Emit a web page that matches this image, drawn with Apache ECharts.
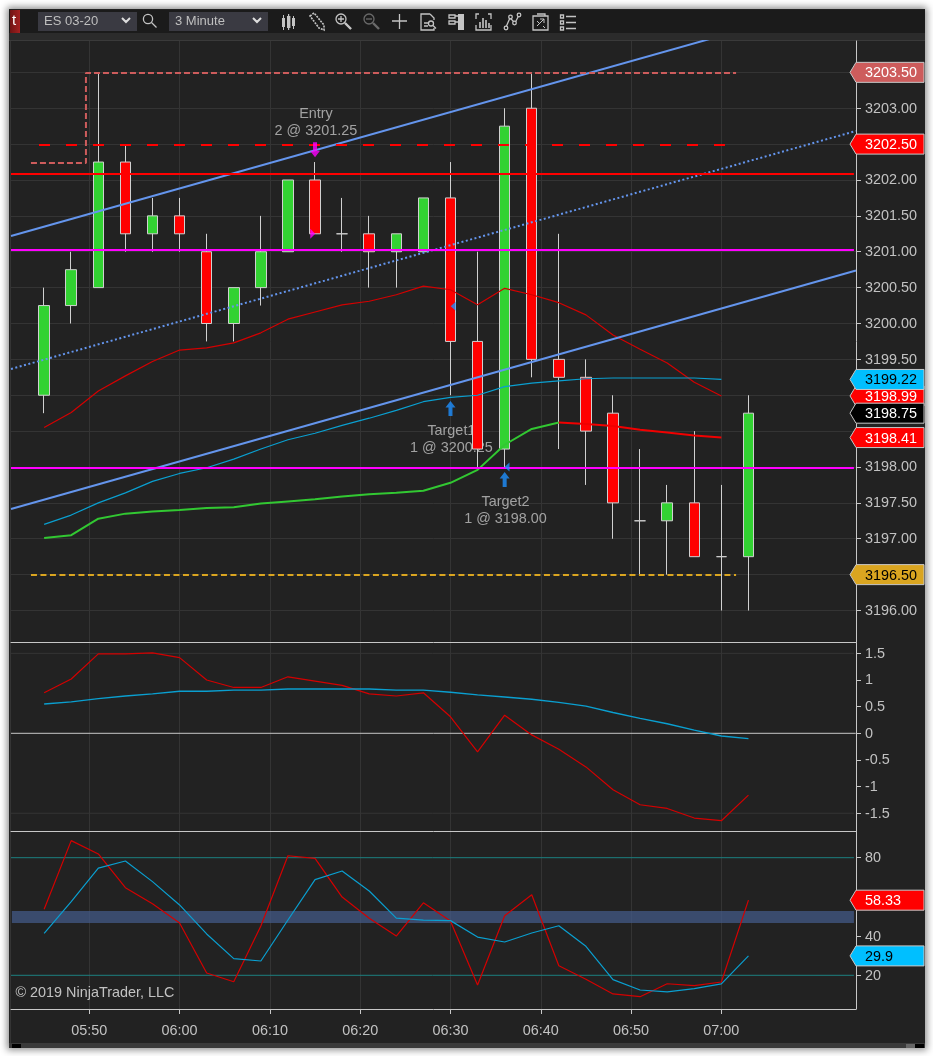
<!DOCTYPE html>
<html><head><meta charset="utf-8">
<script src="https://cdn.jsdelivr.net/npm/echarts@6/dist/echarts.min.js"></script>
<style>
html,body{margin:0;padding:0;background:#fff;width:933px;height:1056px;overflow:hidden}
#win{position:absolute;left:9px;top:9px;width:916px;height:1039px;background:#222;box-shadow:0 0 7px 2px rgba(0,0,0,.45)}
#tb{position:absolute;left:9px;top:10px;width:916px;height:23px;background:#1b1b1b}
#band{position:absolute;left:9px;top:33px;width:916px;height:7px;background:#2b2b2b;border-bottom:1px solid #3a3a3a}
#lb{position:absolute;left:10px;top:41px;width:1px;height:1002px;background:#353535}
#sb{position:absolute;left:9px;top:1043px;width:916px;height:5px;background:#3a3a3a}
.sq{position:absolute;top:1044px;height:4px}
#icons{position:absolute;left:0;top:0}
#chart{position:absolute;left:0;top:0;width:933px;height:1056px}
</style></head><body>
<div id="win"></div><div id="tb"></div><div id="band"></div><div id="lb"></div><div id="sb"></div>
<div class="sq" style="left:12px;width:9px;background:#000"></div>
<div class="sq" style="left:906px;width:9px;background:#666"></div>
<div class="sq" style="left:915px;width:9px;background:#000"></div>
<svg id="icons" width="933" height="40" fill="none" stroke="#c4c4c4" stroke-width="1.3">
<defs><linearGradient id="rg" x1="0" x2="1"><stop offset="0" stop-color="#6e1414"/><stop offset="1" stop-color="#a52020"/></linearGradient></defs>
<rect x="10" y="10" width="10" height="23" fill="url(#rg)" stroke="none"/>
<rect x="38" y="12" width="99" height="19" fill="#3a3a42" stroke="none"/>
<rect x="169" y="12" width="99" height="19" fill="#3a3a42" stroke="none"/>
<path d="M122 18l4 4 4-4M253 18l4 4 4-4" stroke="#ddd" stroke-width="2"/>
<circle cx="148" cy="19" r="4.6"/><path d="M151.5 22.5l5 5"/>
<g fill="#c4c4c4" stroke="none"><rect x="282" y="18" width="3" height="9"/><rect x="287" y="16" width="3.4" height="12"/><rect x="292" y="18" width="3" height="8"/><rect x="283" y="15" width="1" height="15"/><rect x="288" y="14" width="1.2" height="16"/><rect x="293" y="16" width="1" height="13"/></g>
<path d="M310 16l4-3 10 12 0 5-5-2z" stroke-width="1.6" stroke-dasharray="2 1"/>
<circle cx="341" cy="19" r="5"/><path d="M338 19h6M341 16v6M345 23l6 6" /><path d="M345 23l6 6" stroke-width="2.4"/>
<g stroke="#6a6a6a"><circle cx="369" cy="19" r="5"/><path d="M366 19h6"/><path d="M373 23l6 6" stroke-width="2.4"/></g>
<path d="M392 21h15M399.5 14v15"/>
<path d="M430 14h-9v16h13v-2M430 14l4 4v2M424 23h4M424 26h4"/><circle cx="431" cy="23.5" r="2.5"/><path d="M433 25.5l3 3"/>
<path d="M449 15h6v3h-6zM449 21h6v3h-6zM455 16h3M455 22h3"/><rect x="458" y="14" width="6" height="16" fill="#c4c4c4" stroke="none"/>
<path d="M476 19v-5h3M488 14h3v5M476 25v5h15v-5"/><path d="M480 28v-6M483 28v-10M486 28v-8M489 28v-5" stroke-width="1.6"/>
<path d="M506 27l4-9 5 5 4-8"/><g fill="#1b1b1b"><circle cx="506" cy="28" r="1.8"/><circle cx="510.5" cy="17" r="1.8"/><circle cx="514.5" cy="23" r="1.8"/><circle cx="519" cy="15" r="1.8"/></g>
<path d="M537 14h8v2M533 16h15v14h-15z"/><path d="M537 26l7-7M540 19h4v4M537 21l2 2M543 26l2 2" stroke-width="1"/>
<path d="M560.5 15h3v3h-3zM560.5 21h3v3h-3zM560.5 27h3v3h-3zM566 16.5h10M566 22.5h10M566 28.5h10"/>
</svg>
<div id="chart"></div>
<script>
// ---- time of each bar, minutes after midnight (05:45 ... 07:03)
const barMinutes = [345,348,351,354,357,360,363,366,369,372,375,378,381,384,387,390,393,396,399,402,405,408,411,414,417,420,423];
const barOpen  = [3199.00,3200.25,3200.50,3202.25,3201.25,3201.50,3201.00,3200.00,3200.50,3201.00,3202.00,3201.25,3201.25,3201.00,3201.00,3201.75,3199.75,3198.25,3203.00,3199.50,3199.25,3198.75,3197.25,3197.25,3197.50,3196.75,3196.75];
const barClose = [3200.25,3200.75,3202.25,3201.25,3201.50,3201.25,3200.00,3200.50,3201.00,3202.00,3201.25,3201.25,3201.00,3201.25,3201.75,3199.75,3198.25,3202.75,3199.50,3199.25,3198.50,3197.50,3197.25,3197.50,3196.75,3196.75,3198.75];
const barLow   = [3198.75,3200.00,3200.50,3201.00,3201.00,3201.00,3199.75,3199.75,3200.25,3201.00,3201.25,3201.00,3200.50,3200.50,3201.00,3199.00,3198.00,3198.00,3199.25,3198.25,3197.75,3197.00,3196.50,3196.50,3196.75,3196.00,3196.00];
const barHigh  = [3200.50,3201.00,3203.50,3202.50,3201.75,3201.75,3201.25,3200.50,3201.50,3202.00,3202.25,3201.75,3201.50,3201.25,3201.75,3202.25,3201.00,3203.00,3203.50,3201.25,3199.50,3199.00,3198.25,3197.75,3198.50,3197.75,3199.00];
// ---- overlays on the price pane
const upperBand = [3198.55,3198.76,3199.06,3199.27,3199.47,3199.63,3199.66,3199.73,3199.87,3200.06,3200.16,3200.26,3200.31,3200.40,3200.52,3200.47,3200.26,3200.49,3200.40,3200.29,3200.12,3199.84,3199.64,3199.45,3199.18,3198.99];
const slowAvg   = [3197.20,3197.33,3197.50,3197.64,3197.80,3197.91,3197.99,3198.11,3198.25,3198.38,3198.47,3198.58,3198.68,3198.79,3198.91,3198.97,3199.00,3199.12,3199.17,3199.20,3199.23,3199.24,3199.24,3199.24,3199.24,3199.22];
const midAvg    = [3197.01,3197.05,3197.28,3197.35,3197.38,3197.40,3197.43,3197.44,3197.49,3197.52,3197.55,3197.59,3197.62,3197.64,3197.67,3197.78,3197.96,3198.31,3198.53,3198.62,3198.60,3198.57,3198.52,3198.48,3198.44,3198.41];
// ---- oscillator panes
const macdLine   = [0.76,1.02,1.49,1.49,1.51,1.42,1.00,0.86,0.86,1.06,0.98,0.90,0.74,0.70,0.76,0.31,-0.35,0.34,-0.03,-0.30,-0.63,-1.06,-1.34,-1.41,-1.59,-1.64,-1.16];
const macdSignal = [0.55,0.59,0.65,0.70,0.74,0.79,0.79,0.81,0.81,0.83,0.83,0.83,0.83,0.81,0.81,0.77,0.72,0.68,0.64,0.58,0.51,0.39,0.28,0.18,0.06,-0.05,-0.10];
const stochK = [53.7,88.7,81.9,64.7,56.5,46.7,21.2,16.7,45.2,81,79.7,59.9,49.1,40,57,47.7,15.1,50.4,61.1,24.9,18,10.5,9.1,15.7,14.7,16.6,58.33];
const stochD = [41.4,57.6,74.7,78.3,67.8,55.9,41.1,28.5,27.3,48.2,68.8,73.2,63,49.2,48.2,47.9,39.5,37,41.6,45.3,34.8,17.8,12.5,11.5,13.2,15.6,29.9];
// ---- tick marks and tick labels
const priceTicks = [3196,3196.5,3197,3197.5,3198,3198.5,3199,3199.5,3200,3200.5,3201,3201.5,3202,3202.5,3203,3203.5];
const priceLabels = [3196,3197,3197.5,3198,3199.5,3200,3200.5,3201,3201.5,3202,3203];
const macdTicks  = [-1.5,-1,-0.5,0,0.5,1,1.5];
const stochTicks = [20,40,60,80];
const stochLabels = [20,40,80];
const timeTicks  = [350,360,370,380,390,400,410,420];
// ---- drawn objects, [minute, price]
const channelTop = [[341.33,3201.22],[434.91,3204.54]];
const channelMid = [[341.33,3199.366],[434.91,3202.683]];
const channelBot = [[341.33,3197.415],[434.91,3200.739]];
const levelRed = [[341.33,3202.083],[434.68,3202.083]];
const levelMagentaHigh = [[341.33,3201.024],[434.68,3201.024]];
const levelMagentaLow = [[341.33,3197.986],[434.68,3197.986]];
const stopDashed = [[344.43,3202.488],[420.63,3202.488]];
const pinkStep = [[343.54,3202.237],[349.63,3202.237],[349.63,3203.491],[421.63,3203.491]];
const goldDashed = [[343.54,3196.495],[421.63,3196.495]];
const tradeLabels = [[375.1,3202.797,'Entry\n2 @ 3201.25'],[390.1,3198.383,'Target1\n1 @ 3200.25'],[396.1,3197.395,'Target2\n1 @ 3198.00']];
const entryArrow = [[375,3202.42]];
const targetArrows = [[390,3198.815],[396,3197.826]];
const fillMarksBlue = [[390.3,3200.24],[396.26,3198.0]];
const fillMarksMagenta = [[374.75,3201.25]];
const priceFlags = [['3203.50',3203.5,'#cd5c5c','#fff'],['3202.50',3202.5,'#ff0000','#fff'],['3198.99',3198.99,'#ff0000','#fff'],['3199.22',3199.22,'#00bfff','#000'],['3198.75',3198.75,'#000','#fff'],['3198.41',3198.41,'#ff0000','#fff'],['3196.50',3196.5,'#daa520','#000']];
const stochFlags = [['58.33',58.33,'#ff0000','#fff'],['29.9',29.9,'#00bfff','#000']];

const FONT='"Liberation Sans",Arial,sans-serif', TXT='#c2c2c2', GRID='#343434', AXIS='#c8c8c8';
const XMIN=341.33, XMAX=434.91, XEND=434.68;
const pair=(xs,ys)=>ys.map((v,i)=>[xs[i],v]);
const fmtTime=m=>String(Math.floor(m/60)).padStart(2,'0')+':'+String(m%60).padStart(2,'0');

function xAxis(i,labels){return {gridIndex:i,type:'value',min:XMIN,max:XMAX,position:'bottom',
  axisLine:{show:true,onZero:false,lineStyle:{color:AXIS,width:1}},
  axisTick:{show:labels,length:5,customValues:timeTicks,lineStyle:{color:AXIS}},
  axisLabel:{show:labels,customValues:timeTicks,formatter:fmtTime,color:TXT,fontFamily:FONT,fontSize:14.4,margin:15,hideOverlap:false,showMinLabel:true,showMaxLabel:true},
  splitLine:{show:true,lineStyle:{color:GRID,width:1}}};}
function yAxis(i,min,max,ticks,labels,fmt,split){return {gridIndex:i,type:'value',position:'right',min,max,
  axisLine:{show:true,onZero:false,lineStyle:{color:AXIS,width:1}},
  axisTick:{show:true,length:5,customValues:ticks,lineStyle:{color:AXIS}},
  axisLabel:{customValues:labels,formatter:fmt,color:TXT,fontFamily:FONT,fontSize:14.4,margin:9,hideOverlap:false,verticalAlign:'top',padding:[-6.5,0,0,0]},
  splitLine:{show:split,lineStyle:{color:GRID,width:1}}};}
function line(name,data,color,width,ax,z,extra){return Object.assign({name,type:'line',data,xAxisIndex:ax,yAxisIndex:ax,showSymbol:false,symbol:'none',z,silent:true,
  lineStyle:Object.assign({color,width},extra&&extra.ls||{})},extra&&extra.s||{});}
function flags(name,list,ax){return {name,type:'custom',xAxisIndex:ax,yAxisIndex:ax,z:20,silent:true,clip:false,
  data:list.map(f=>[XMAX,f[1]]),
  renderItem:(params,api)=>{const f=list[params.dataIndex];const p=api.coord([api.value(0),api.value(1)]);
    const x=p[0],y=p[1];
    return {type:'group',children:[
      {type:'polygon',shape:{points:[[x-6,y],[x,y-10],[x+68,y-10],[x+68,y+10],[x,y+10]]},style:{fill:f[2],stroke:AXIS,lineWidth:1}},
      {type:'text',style:{x:x+9,y:y+1,text:f[0],fill:f[3],font:'14.4px '+FONT,textVerticalAlign:'middle',textAlign:'left'}}]};}};}
const DASH=(a)=>({ls:{type:a}});
const ARROW='path://M5,0 L10,6.5 L7,6.5 L7,15 L3,15 L3,6.5 L0,6.5 Z';
function gtext(x,y,t,fill,size){return {type:'text',silent:true,z:30,style:{x,y,text:t,fill,font:(size||14)+'px '+FONT,textVerticalAlign:'middle'}};}

const chart=echarts.init(document.getElementById('chart'),null,{width:933,height:1056});
chart.setOption({
 animation:false,backgroundColor:'transparent',
 grid:[{left:11,top:41,width:845,height:601},{left:11,top:642,width:845,height:189},{left:11,top:831,width:845,height:178}],
 xAxis:[xAxis(0,false),xAxis(1,false),xAxis(2,true)],
 yAxis:[yAxis(0,3195.561,3203.937,priceTicks,priceLabels,v=>v.toFixed(2),true),
        yAxis(1,-1.833,1.713,macdTicks,macdTicks,v=>String(v),false),
        yAxis(2,2.81,93.62,stochTicks,stochLabels,v=>String(v),false)],
 series:[
  {name:'Trade text',type:'scatter',xAxisIndex:0,yAxisIndex:0,z:1,silent:true,symbolSize:1,data:tradeLabels,itemStyle:{color:'transparent'},
   label:{show:true,position:'inside',formatter:p=>p.value[2],color:TXT,fontFamily:FONT,fontSize:14.4,lineHeight:17,align:'center',verticalAlign:'middle'}},
  {name:'Price',type:'candlestick',xAxisIndex:0,yAxisIndex:0,z:2,silent:true,barWidth:11,
   encode:{x:0,y:[1,2,3,4]},
   data:barMinutes.map((m,i)=>[m,barOpen[i],barClose[i],barLow[i],barHigh[i]]),
   itemStyle:{color:'#32d232',color0:'#ff0000',borderColor:'#d0d0d0',borderColor0:'#d0d0d0',borderColorDoji:'#d0d0d0',borderWidth:1}},
  line('Upper band',pair(barMinutes,upperBand),'#d40000',1.2,0,3),
  line('Slow average',pair(barMinutes,slowAvg),'#0a9fd0',1.2,0,3),
  line('Mid average rising',pair(barMinutes,midAvg).slice(0,20),'#32c832',2,0,3),
  line('Mid average falling',pair(barMinutes,midAvg).slice(19),'#f00000',2,0,3),
  line('Channel top',channelTop,'#6495ed',2,0,4),
  line('Channel middle',channelMid,'#6495ed',2,0,4,DASH([2,2.5])),
  line('Channel bottom',channelBot,'#6495ed',2,0,4),
  line('Level red',levelRed,'#ff0000',2,0,4),
  line('Level magenta high',levelMagentaHigh,'#ff00ff',2,0,4),
  line('Level magenta low',levelMagentaLow,'#ff00ff',2,0,4),
  line('Stop',stopDashed,'#ff0000',2,0,4,DASH([11,16])),
  line('Pink step',pinkStep,'#cd5c5c',2,0,4,DASH([6,3])),
  line('Gold',goldDashed,'#daa520',2,0,4,DASH([6,3.5])),
  {name:'Entry arrow',type:'scatter',xAxisIndex:0,yAxisIndex:0,z:6,silent:true,data:entryArrow,symbol:ARROW,symbolSize:[10,15],symbolRotate:180,itemStyle:{color:'#ff00ff'}},
  {name:'Target arrows',type:'scatter',xAxisIndex:0,yAxisIndex:0,z:6,silent:true,data:targetArrows,symbol:ARROW,symbolSize:[10,15],itemStyle:{color:'#1e90ff'}},
  {name:'Fills blue',type:'scatter',xAxisIndex:0,yAxisIndex:0,z:6,silent:true,data:fillMarksBlue,symbol:'triangle',symbolSize:[9,5],symbolRotate:90,itemStyle:{color:'#1e90ff'}},
  {name:'Fills magenta',type:'scatter',xAxisIndex:0,yAxisIndex:0,z:6,silent:true,data:fillMarksMagenta,symbol:'triangle',symbolSize:[10,5],symbolRotate:-90,itemStyle:{color:'#ff00ff'}},
  flags('Price flags',priceFlags,0),
  // MACD pane
  line('Zero',[[XMIN,0],[XEND+.2,0]],'#c8c8c8',1,1,1),
  line('Upper guide',[[XMIN,1.5],[XEND,1.5]],GRID,1,1,1),
  line('Lower guide',[[XMIN,-1.5],[XEND,-1.5]],GRID,1,1,1),
  line('MACD',pair(barMinutes,macdLine),'#d40000',1.2,1,3),
  line('Signal',pair(barMinutes,macdSignal),'#0a9fd0',1.4,1,3),
  // Stochastic pane
  line('Stoch 80',[[XMIN,80],[XEND,80]],'#1c8080',1,2,1,{s:{markArea:{silent:true,itemStyle:{color:'rgba(68,92,138,0.72)'},data:[[{coord:[XMIN+.1,52.8]},{coord:[XEND,46.7]}]]}}}),
  line('Stoch 20',[[XMIN,20],[XEND,20]],'#1c8080',1,2,1),
  line('Stoch K',pair(barMinutes,stochK),'#d40000',1.2,2,3),
  line('Stoch D',pair(barMinutes,stochD),'#0a9fd0',1.2,2,3),
  flags('Stoch flags',stochFlags,2)
 ],
 graphic:[
  gtext(12,21,'t','#fff',15),
  gtext(44,21.5,'ES 03-20','#bfbfbf',13),
  gtext(175,21.5,'3 Minute','#bfbfbf',13),
  gtext(15.5,993,'© 2019 NinjaTrader, LLC',TXT,14.4)
 ]
});
</script>
</body></html>
